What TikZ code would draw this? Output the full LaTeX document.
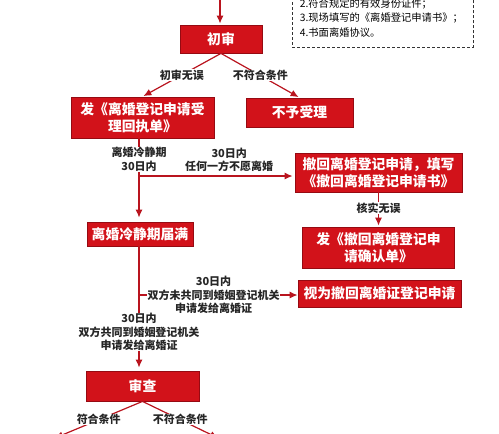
\documentclass[tikz,border=0pt]{standalone}
\usepackage{fontspec}
\setmainfont{Noto Sans CJK SC}
\usetikzlibrary{arrows.meta}
\definecolor{boxred}{RGB}{210,18,26}
\definecolor{edgered}{RGB}{150,10,18}
\definecolor{linered}{RGB}{185,20,30}
\tikzset{
    block/.style = {
        draw=edgered,
        fill=boxred,
        shape=rectangle,
        text=white,
        align=center,
        inner sep=0pt,
        line width=0.8pt,
        font=\bfseries\fontsize{13.8}{17.5}\selectfont
    },
    tag/.style = {
        fill=white,
        inner sep=0.5pt,
        align=center,
        text=black!85,
        font=\bfseries\fontsize{11}{13.5}\selectfont
    },
    memo/.style = {
        draw=black!80,
        dash pattern=on 3pt off 2pt,
        line width=0.7pt,
        align=left,
        inner xsep=7.5pt,
        text width=166pt,
        minimum height=59pt,
        font=\fontsize{10.3}{14.5}\selectfont
    },
    link/.style = {
        draw=linered,
        line width=1.2pt
    },
    >={Latex[length=8pt,width=7pt]},
}
\begin{document}
\begin{tikzpicture}[x=1pt,y=-1pt]
    \useasboundingbox (0,0) rectangle (499,434);
    \clip (0,0) rectangle (499,434);

    \node[memo, anchor=north west] (docs) at (292,-12) {2.符合规定的有效身份证件；\\3.现场填写的《离婚登记申请书》；\\4.书面离婚协议。};
    \node[block, minimum width=82pt, minimum height=28pt] (firstcheck) at (221,39) {初审};
    \node[block, minimum width=143pt, minimum height=41pt] (receipt) at (142.5,117.5) {发《离婚登记申请受\\理回执单》};
    \node[block, minimum width=107pt, minimum height=29pt] (refuse) at (299.5,112.5) {不予受理};
    \node[block, minimum width=167pt, minimum height=39pt] (withdraw) at (378.5,172.5) {撤回离婚登记申请，填写\\《撤回离婚登记申请书》};
    \node[block, minimum width=152pt, minimum height=41pt] (confirm) at (378.5,247.5) {发《撤回离婚登记申\\请确认单》};
    \node[block, minimum width=106pt, minimum height=24pt] (cooloff) at (140,234) {离婚冷静期届满};
    \node[block, minimum width=163pt, minimum height=27pt] (deemed) at (379.5,293.5) {视为撤回离婚证登记申请};
    \node[block, minimum width=113pt, minimum height=30pt] (review) at (142.5,386) {审查};

    \coordinate (entry) at (220,-10);
    \coordinate (split1) at (139,176);
    \coordinate (split2) at (139,295);
    \coordinate (passend) at (55,438);
    \coordinate (failend) at (218,438);

    \path[link, ->, shorten >=1pt] (entry) -- (entry |- firstcheck.north);
    \path[link, ->, shorten >=1pt] (firstcheck.south) -- node[tag]{初审无误} (receipt.north);
    \path[link, ->, shorten >=1pt] (firstcheck.south) -- node[tag]{不符合条件} (refuse.north);
    \path[link] (receipt.south -| split1) -- node[tag, pos=0.55]{离婚冷静期\\30日内} (split1);
    \path[link, ->, shorten >=2pt] (split1) -- node[tag, above, pos=0.58, fill=none, yshift=3pt]{30日内\\任何一方不愿离婚} (split1 -| withdraw.west);
    \path[link, ->, shorten >=4pt] (split1) -- (split1 |- cooloff.north);
    \path[link, ->, shorten >=1pt] (withdraw.south) -- node[tag, pos=0.45]{核实无误} (withdraw.south |- confirm.north);
    \path[link] (cooloff.south -| split2) -- (split2);
    \path[link, ->] (split2) -- node[tag, pos=0.47]{30日内\\双方未共同到婚姻登记机关\\申请发给离婚证} (split2 -| deemed.west);
    \path[link, ->, shorten >=3pt] (split2) -- node[tag, pos=0.49]{30日内\\双方共同到婚姻登记机关\\申请发给离婚证} (split2 |- review.north);
    \path[link, ->] (review.south) -- node[tag]{符合条件} (passend);
    \path[link, ->] (review.south) -- node[tag]{不符合条件} (failend);
\end{tikzpicture}
\end{document}
